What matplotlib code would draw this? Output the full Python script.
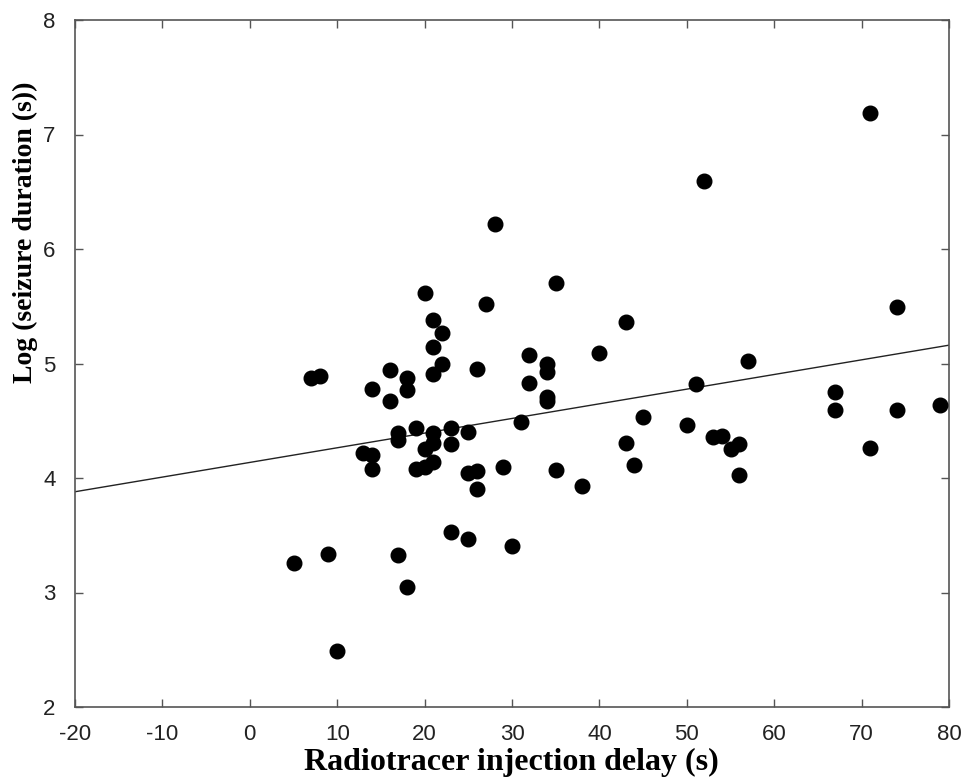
import numpy as np
import matplotlib
matplotlib.use('Agg')
import matplotlib.pyplot as plt

plt.rcParams['axes.unicode_minus'] = False

# injection delay (s) and log seizure duration
delay = [5, 9, 10, 17, 18, 23, 25, 30, 38, 35, 29, 26, 26, 25, 25, 23, 23,
         21, 21, 21, 20, 20, 19, 19, 17, 17, 14, 13, 14, 14, 16, 16, 18, 18,
         7, 8, 20, 21, 22, 21, 22, 21, 26, 27, 28, 35, 32, 32, 31, 34, 34,
         34, 34, 40, 43, 45, 43, 44, 50, 51, 52, 57, 53, 54, 55, 56, 56, 67,
         67, 71, 71, 74, 74, 79]
log_dur = [3.26, 3.34, 2.49, 3.33, 3.05, 3.53, 3.47, 3.41, 3.93, 4.07, 4.10,
           3.90, 4.06, 4.04, 4.40, 4.44, 4.30, 4.14, 4.31, 4.39, 4.10, 4.25,
           4.44, 4.08, 4.39, 4.33, 4.08, 4.22, 4.20, 4.78, 4.67, 4.94, 4.77,
           4.87, 4.87, 4.89, 5.62, 5.38, 5.27, 5.14, 5.00, 4.91, 4.95, 5.52,
           6.22, 5.70, 5.07, 4.83, 4.49, 5.00, 4.93, 4.71, 4.67, 5.09, 5.36,
           4.53, 4.31, 4.11, 4.46, 4.82, 6.59, 5.02, 4.36, 4.37, 4.25, 4.30,
           4.03, 4.75, 4.59, 4.26, 7.19, 5.49, 4.59, 4.64]

# regression line
fit_intercept = 4.136
fit_slope = 0.0128
x_ticks = [-20, -10, 0, 10, 20, 30, 40, 50, 60, 70, 80]
y_ticks = [2, 3, 4, 5, 6, 7, 8]

fig = plt.figure(figsize=(9.69, 7.83), dpi=100)
ax = fig.add_axes([75/969, 1-707/783, (949-75)/969, (707-20)/783])

xx = np.array([-20, 80])
ax.plot(xx, fit_intercept + fit_slope*xx, color='#222222', linewidth=1.0, zorder=2)
ax.plot(delay, log_dur, 'o', color='black', markersize=10.5, zorder=3)

ax.set_xlim(-20, 80)
ax.set_ylim(2, 8)
ax.set_xticks(x_ticks)
ax.set_yticks(y_ticks)
ax.tick_params(direction='in', length=6, width=1, color='#555555',
               top=True, right=True, labelsize=16, labelcolor='#222222')
ax.tick_params(axis='x', pad=12)
ax.tick_params(axis='y', pad=14)
for lab in ax.get_xticklabels() + ax.get_yticklabels():
    lab.set_family('Liberation Sans')
for sp in ax.spines.values():
    sp.set_color('#555555')
    sp.set_linewidth(1.2)

fig.text(511/969, 1-762/783, 'Radiotracer injection delay (s)', family='Liberation Serif',
         fontweight='bold', fontsize=23, ha='center', va='center')
fig.text(25/969, 1-232/783, 'Log (seizure duration (s))', family='Liberation Serif',
         fontweight='bold', fontsize=20, rotation=90, ha='center', va='center')

plt.savefig('out.png', dpi=100)
plt.close()
